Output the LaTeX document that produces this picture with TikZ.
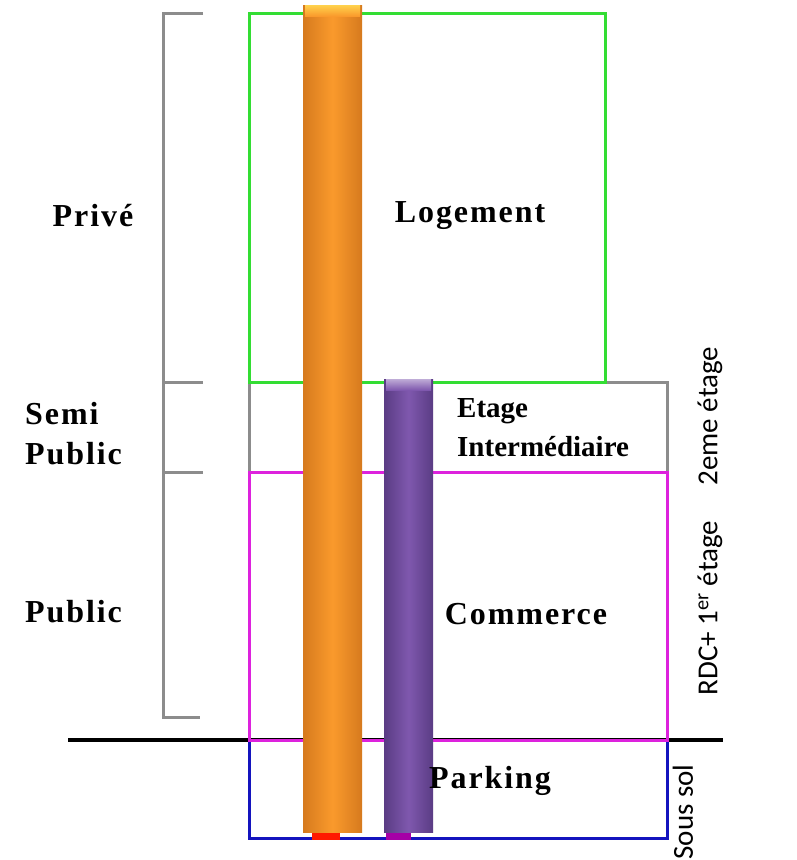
\documentclass[tikz,border=0pt]{standalone}
\usepackage{fontspec}
\setmainfont{Liberation Serif}
\newfontfamily\labelfont[LetterSpace=6]{Liberation Serif}
\newfontfamily\floorfont{Carlito}
\definecolor{zonegreen}{HTML}{33DD33}
\definecolor{zonegray}{HTML}{8C8C8C}
\definecolor{zonemagenta}{HTML}{DD22DD}
\definecolor{zoneblue}{HTML}{1414BE}
\definecolor{orangemid}{HTML}{FA9A2C}
\definecolor{orangeedge}{HTML}{D67A1E}
\definecolor{purplemid}{HTML}{7F58AE}
\definecolor{purpleedge}{HTML}{5A3C84}
\begin{document}
\begin{tikzpicture}[x=1pt, y=-1pt,
        zone/.style={draw, line width=3pt},
        bracket/.style={draw=zonegray, line width=3pt},
        label/.style={font=\labelfont\bfseries\fontsize{32}{40}\selectfont, align=left, inner sep=0pt},
        floor/.style={font=\floorfont\fontsize{29}{30}\selectfont, rotate=90, inner sep=0pt},
        orangecol/.style={left color=orangeedge, right color=orangeedge, middle color=orangemid},
        purplecol/.style={left color=purpleedge, right color=purpleedge, middle color=purplemid}
    ]
    \useasboundingbox[fill=white] (0,0) rectangle (796,860);

    % Ground line
    \coordinate (groundL) at (68,740);
    \coordinate (groundR) at (723,740);
    \draw[line width=3.5pt] (groundL) -- (groundR);

    % Zones
    \draw[zone, zoneblue] (249,740) rectangle (667,838);
    \draw[zone, zonegray] (249,382) rectangle (667,472);
    \draw[zone, zonegreen] (249,13) rectangle (605,382);
    \draw[zone, zonemagenta] (249,472) rectangle (667,740);

    % Bracket
    \draw[bracket] (203,13) -- (163,13) -- (163,717) -- (200,717);
    \draw[bracket] (163,382) -- (203,382);
    \draw[bracket] (163,472) -- (203,472);

    % Columns
    \fill[red!80!orange] (312,830) rectangle (340,840);
    \fill[orangecol] (303,5) rectangle (362,832);
    \fill[top color=orange!50!yellow!70!white, bottom color=orangemid] (305,5) rectangle (360,16);
    \fill[violet!70!magenta] (386,830) rectangle (411,840);
    \fill[purplecol] (384,379) rectangle (433,832);
    \fill[top color=purplemid!50!white, bottom color=purplemid] (386,379) rectangle (431,390);

    % Zone labels
    \node[label] (logement) at (470,216) {Logement};
    \node[label, font=\bfseries\fontsize{29}{39}\selectfont, anchor=west] (etage) at (457,428) {Etage\\Intermédiaire};
    \node[label] (commerce) at (526,614) {Commerce};
    \node[label] (parking) at (490,781) {Parking};

    % Status labels
    \node[label] (prive) at (93,216) {Privé};
    \node[label, anchor=west] (semi) at (25,434) {Semi\\Public};
    \node[label, anchor=west] (public) at (25,612) {Public};

    % Floor labels
    \node[floor] (etage2) at (710,416) {2eme étage};
    \node[floor] (rdc) at (710,608) {RDC+ 1\textsuperscript{er} étage};
    \node[floor] (soussol) at (683,812) {Sous sol};
\end{tikzpicture}
\end{document}
